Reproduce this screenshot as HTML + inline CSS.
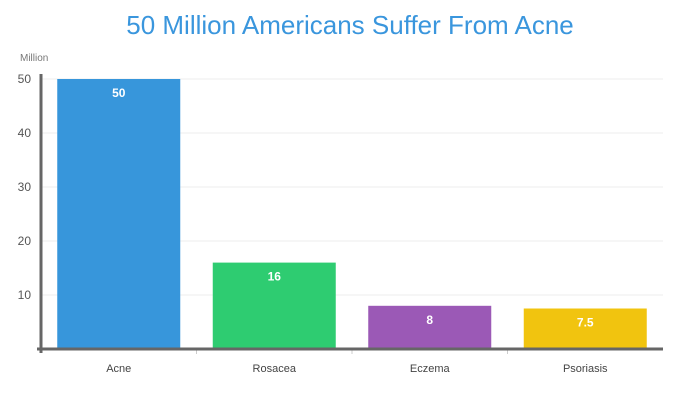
<!DOCTYPE html>
<html><head><meta charset="utf-8"><style>
body{margin:0;background:#fff;}
svg{display:block;font-family:"Liberation Sans",sans-serif;}
</style></head><body>
<svg id="chart" width="700" height="400">
<text x="350" y="34" text-anchor="middle" font-size="26" fill="#3a96dd">50 Million Americans Suffer From Acne</text>
<text x="20" y="61" font-size="10" fill="#777">Million</text>
<g id="grid"></g><g id="bars"></g><g id="axes"></g>
</svg>
<script>
const categories=["Acne","Rosacea","Eczema","Psoriasis"];
const values=[50,16,8,7.5];
const valueLabels=["50","16","8","7.5"];
const colors=["#3796db","#2ecc71","#9b59b6","#f1c40f"];
const yTicks=[10,20,30,40,50];
const NS="http://www.w3.org/2000/svg";
const x0=41,x1=663,y0=349,yTop=79,yMax=50;
const y=v=>y0-(y0-yTop)*v/yMax;
const bw=(x1-x0)/categories.length;
const xc=i=>x0+bw*(i+0.5);
function mk(tag,attrs,parent){const e=document.createElementNS(NS,tag);for(const k in attrs)e.setAttribute(k,attrs[k]);document.getElementById(parent).appendChild(e);return e;}
yTicks.forEach(t=>{
 const l=mk("line",{x1:x0,x2:x1,y1:y(t),y2:y(t),stroke:"#eee","stroke-width":1},"grid");
 
 
 const tx=mk("text",{x:31,y:y(t)+4,"text-anchor":"end","font-size":12,fill:"#555"},"grid");
 tx.textContent=t;
 
 
});
categories.forEach((c,i)=>{
 const w=123;
 const r=mk("rect",{x:xc(i)-w/2,y:y(values[i]),width:w,height:y0-y(values[i]),fill:colors[i]},"bars");
 
 
 const v=mk("text",{x:xc(i),y:y(values[i])+18,"text-anchor":"middle","font-size":12,"font-weight":"bold",fill:"#fff"},"bars");
 v.textContent=valueLabels[i];
 
 
 const cl=mk("text",{x:xc(i),y:372,"text-anchor":"middle","font-size":11,fill:"#444"},"axes");
 cl.textContent=c;
 
 
 if(i>0){const tk=mk("line",{x1:x0+bw*i,x2:x0+bw*i,y1:y0,y2:y0+5,stroke:"#ccc"},"axes");
 
 }
});
const xa=mk("line",{x1:37,x2:x1,y1:y0,y2:y0,stroke:"#666","stroke-width":3},"axes");


const ya=mk("line",{x1:x0,x2:x0,y1:74,y2:353,stroke:"#666","stroke-width":3},"axes");


</script>
</body></html>
